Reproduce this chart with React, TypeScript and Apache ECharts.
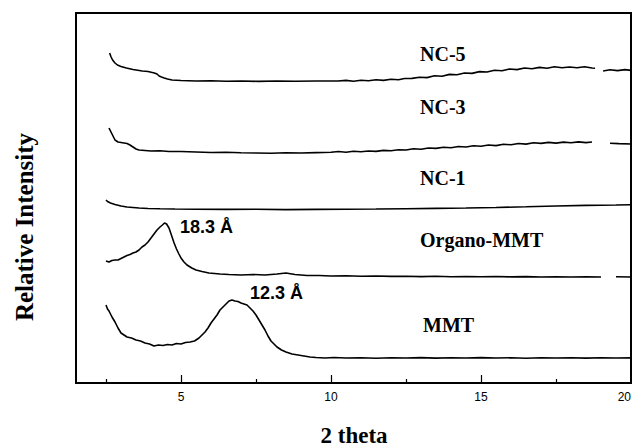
import React, { useEffect, useRef } from "react";
import * as echarts from "echarts";

// 2θ (degrees) vs relative intensity (arbitrary, offset per pattern)
const mmt: [number, number][] = [
  [2.5, 78], [2.55, 74], [2.6, 72], [2.7, 66], [2.8, 61], [2.9, 55], [3.0, 50], [3.1, 48], [3.2, 46],
  [3.35, 45], [3.5, 43], [3.65, 42], [3.8, 40], [3.95, 39], [4.1, 37], [4.25, 38], [4.4, 37.5],
  [4.55, 38.5], [4.7, 38], [4.85, 39.5], [5.0, 39], [5.15, 40.5], [5.3, 41], [5.45, 42], [5.6, 45],
  [5.7, 48], [5.8, 51], [5.9, 55], [6.0, 60], [6.1, 64], [6.2, 68], [6.3, 73], [6.4, 76], [6.5, 79],
  [6.6, 82], [6.7, 83], [6.8, 82], [6.9, 81.5], [7.0, 80], [7.1, 79], [7.2, 78], [7.3, 75], [7.4, 72],
  [7.5, 68], [7.6, 63], [7.7, 58], [7.8, 53], [7.9, 47], [8.0, 42], [8.1, 39], [8.2, 36], [8.35, 33],
  [8.5, 31], [8.7, 29], [8.9, 28], [9.1, 27], [9.3, 26], [9.5, 25.5], [9.8, 25], [10.1, 25.5],
  [10.5, 25], [11, 25.3], [11.5, 24.8], [12, 25.2], [12.5, 25], [13, 25.4], [13.5, 24.9], [14, 25.3],
  [14.5, 25], [15, 25.4], [15.5, 25], [16, 25.2], [16.5, 24.8], [17, 25.3], [17.5, 25], [18, 25.2],
  [18.5, 24.9], [19, 25.2], [19.5, 25], [20, 25.1],
];

const organoMmt: [number, number | null][] = [
  [2.5, 122], [2.6, 121], [2.7, 122.5], [2.8, 123], [2.9, 123], [3.0, 124.5], [3.1, 126], [3.2, 127.5],
  [3.3, 128.5], [3.4, 130], [3.5, 131], [3.6, 133], [3.7, 136], [3.8, 138], [3.9, 141], [4.0, 145],
  [4.1, 149], [4.2, 153], [4.3, 156], [4.38, 158], [4.45, 160], [4.52, 159], [4.6, 155], [4.68, 148],
  [4.77, 140], [4.85, 134], [4.93, 129], [5.0, 125], [5.1, 121], [5.2, 118], [5.36, 115], [5.5, 113],
  [5.7, 111.5], [5.93, 110], [6.3, 109], [6.6, 108.5], [7.0, 108], [7.4, 108.5], [7.8, 108], [8.2, 109],
  [8.5, 110], [8.8, 108.5], [9.2, 107.5], [9.6, 107.5], [10, 107], [10.5, 107.2], [11, 106.8],
  [11.5, 107], [12, 106.6], [12.5, 106.8], [13, 106.4], [13.5, 106.7], [14, 106.3], [14.5, 106.5],
  [15, 106.2], [15.5, 106.5], [16, 106.1], [16.5, 106.4], [17, 106], [17.5, 106.3], [18, 106],
  [18.5, 106.2], [19.0, 106], [19.3, null], [19.5, 106.2], [20, 106],
];

const nc1: [number, number][] = [
  [2.5, 183], [2.55, 181.5], [2.65, 180], [2.8, 178.5], [3.0, 177], [3.2, 176], [3.4, 175.5],
  [3.6, 175], [3.9, 174.5], [4.3, 174.2], [4.8, 174], [5.5, 173.8], [6.5, 173.6], [7.5, 173.7],
  [8.5, 173.4], [9.5, 173.6], [10.5, 173.8], [11.5, 174], [12.5, 174.3], [13.5, 174.6], [14.5, 175],
  [15.5, 175.5], [16.5, 176.2], [17.5, 177], [18.5, 177.6], [19.5, 178], [20, 178.3],
];

const nc3: [number, number | null][] = [
  [2.6, 255], [2.65, 252], [2.7, 249], [2.75, 246], [2.8, 243], [2.9, 241], [3.0, 240.5], [3.1, 240],
  [3.2, 239.5], [3.3, 238], [3.4, 236], [3.5, 234], [3.6, 233], [3.8, 232.5], [4.0, 232], [4.3, 232.3],
  [4.6, 231.5], [5.0, 231.5], [5.5, 231], [6.0, 230.5], [6.5, 230.8], [7.0, 230.2], [7.5, 230],
  [8.0, 229.8], [8.5, 230.2], [9.0, 230], [9.5, 230.4], [10, 230.8], [10.25, 231.5], [10.5, 230.8],
  [10.75, 231.8], [11, 231.2], [11.25, 232], [11.5, 231.6], [11.75, 232.6], [12, 232.2], [12.25, 233.3],
  [12.5, 233], [12.75, 234.2], [13, 233.8], [13.25, 235], [13.5, 234.6], [13.75, 235.8], [14, 235.2],
  [14.25, 236.5], [14.5, 236], [14.75, 237.2], [15, 236.8], [15.25, 238], [15.5, 237.4], [15.75, 238.8],
  [16, 238.2], [16.25, 239.5], [16.5, 238.9], [16.75, 240.2], [17, 239.6], [17.25, 240.6], [17.5, 239.9],
  [17.75, 240.9], [18, 240.2], [18.25, 241.1], [18.5, 240.4], [18.7, 241], [19.0, null], [19.3, 239.8],
  [19.6, 239.4], [20, 239],
];

const nc5: [number, number | null][] = [
  [2.62, 330], [2.67, 326], [2.72, 323], [2.8, 320], [2.88, 318], [3.0, 316.5], [3.18, 315], [3.4, 313.5],
  [3.71, 312], [3.9, 311.5], [4.11, 310], [4.2, 309], [4.27, 307], [4.35, 306], [4.44, 305], [4.55, 304],
  [4.7, 303], [5.0, 302.5], [5.5, 302], [6.0, 302.3], [6.5, 301.8], [7.0, 302], [7.58, 301.6],
  [8.2, 302], [8.8, 301.7], [9.5, 302], [10.23, 302], [10.5, 302.6], [10.75, 301.8], [11.0, 302.8],
  [11.25, 302.2], [11.5, 303.3], [11.75, 302.6], [12.0, 303.8], [12.25, 303.2], [12.45, 304.5],
  [12.7, 304.6], [12.95, 305.8], [13.2, 305.4], [13.45, 307.2], [13.7, 306.8], [13.95, 308.6],
  [14.2, 308.2], [14.45, 310], [14.7, 309.6], [14.95, 311.4], [15.2, 311], [15.45, 312.8], [15.7, 312.2],
  [15.95, 314], [16.2, 313.4], [16.45, 315], [16.7, 314.2], [16.95, 315.6], [17.2, 314.8], [17.45, 316.2],
  [17.7, 315.2], [17.95, 316], [18.2, 315.2], [18.45, 316.3], [18.7, 315], [18.8, 314.8], [18.9, null],
  [19.07, 312], [19.3, 313.2], [19.55, 312.4], [19.8, 313.4], [20, 312.6],
];

const xMin = 1.5;
const xMax = 20;
const yMin = 0;
const yMax = 370;
const majorTicks = [5, 10, 15];
const minorTicks = [2.5, 7.5, 12.5, 17.5];
const tickLabels = [5, 10, 15, 20];

const curveLabels = [
  { text: "NC-5", x: 420, y: 54 },
  { text: "NC-3", x: 420, y: 107 },
  { text: "NC-1", x: 420, y: 178 },
  { text: "Organo-MMT", x: 420, y: 240 },
  { text: "MMT", x: 423, y: 325 },
];
const peakLabels = [
  { text: "18.3 Å", x: 180, y: 227 },
  { text: "12.3 Å", x: 250, y: 293 },
];

export default function App() {
  const ref = useRef<HTMLDivElement>(null);
  useEffect(() => {
    if (!ref.current) return;
    const chart = echarts.init(ref.current, null, { renderer: "svg" });
    const line = (name: string, data: any[]) => ({
      name,
      type: "line",
      data,
      showSymbol: false,
      symbol: "none",
      connectNulls: false,
      lineStyle: { color: "#000", width: 1.6 },
      silent: true,
    });
    chart.setOption({
      animation: false,
      backgroundColor: "#fff",
      grid: {
        left: 76,
        right: 8,
        top: 13,
        bottom: 65,
        outerBoundsMode: "none",
        show: true,
        borderColor: "#000",
        borderWidth: 2,
      },
      xAxis: [
        {
          type: "value",
          min: xMin,
          max: xMax,
          axisLine: { show: true, onZero: false, lineStyle: { color: "#000", width: 2 } },
          axisTick: { show: true, inside: true, length: 8, customValues: majorTicks, lineStyle: { color: "#000", width: 1.2 } },
          axisLabel: {
            customValues: tickLabels,
            alignMaxLabel: "right",
            color: "#000",
            fontFamily: "'Liberation Sans', Arial, sans-serif",
            fontSize: 12,
            margin: 8,
          },
          splitLine: { show: false },
        },
        {
          type: "value",
          min: xMin,
          max: xMax,
          position: "bottom",
          axisLine: { show: false },
          axisTick: { show: true, inside: true, length: 4, customValues: minorTicks, lineStyle: { color: "#000", width: 1.2 } },
          axisLabel: { show: false },
          splitLine: { show: false },
        },
      ],
      yAxis: [
        {
          type: "value",
          min: yMin,
          max: yMax,
          axisLine: { show: true, lineStyle: { color: "#000", width: 2 } },
          axisTick: { show: false },
          axisLabel: { show: false },
          splitLine: { show: false },
        },
        {
          type: "value",
          min: yMin,
          max: yMax,
          position: "right",
          axisLine: { show: true, onZero: false, lineStyle: { color: "#000", width: 2 } },
          axisTick: { show: false },
          axisLabel: { show: false },
          splitLine: { show: false },
        },
      ],
      series: [
        line("MMT", mmt),
        line("Organo-MMT", organoMmt),
        line("NC-1", nc1),
        line("NC-3", nc3),
        line("NC-5", nc5),
      ],
      graphic: [
        ...curveLabels.map((l) => ({
          type: "text",
          x: l.x,
          y: l.y,
          silent: true,
          style: {
            text: l.text,
            align: "left",
            verticalAlign: "middle",
            fill: "#000",
            font: "bold 20px 'Liberation Serif', 'Times New Roman', serif",
          },
        })),
        ...peakLabels.map((l) => ({
          type: "text",
          x: l.x,
          y: l.y,
          silent: true,
          style: {
            text: l.text,
            align: "left",
            verticalAlign: "middle",
            fill: "#000",
            font: "bold 18px 'Liberation Sans', Arial, sans-serif",
          },
        })),
        {
          type: "text",
          x: 354,
          y: 435,
          silent: true,
          style: {
            text: "2 theta",
            align: "center",
            verticalAlign: "middle",
            fill: "#000",
            font: "bold 23px 'Liberation Serif', 'Times New Roman', serif",
          },
        },
        {
          type: "text",
          x: 24,
          y: 227,
          rotation: Math.PI / 2,
          silent: true,
          style: {
            text: "Relative Intensity",
            align: "center",
            verticalAlign: "middle",
            fill: "#000",
            font: "bold 25px 'Liberation Serif', 'Times New Roman', serif",
          },
        },
      ],
    });
    return () => chart.dispose();
  }, []);
  return <div ref={ref} style={{ width: 639, height: 448, position: "absolute", left: 0, top: 0 }} />;
}
